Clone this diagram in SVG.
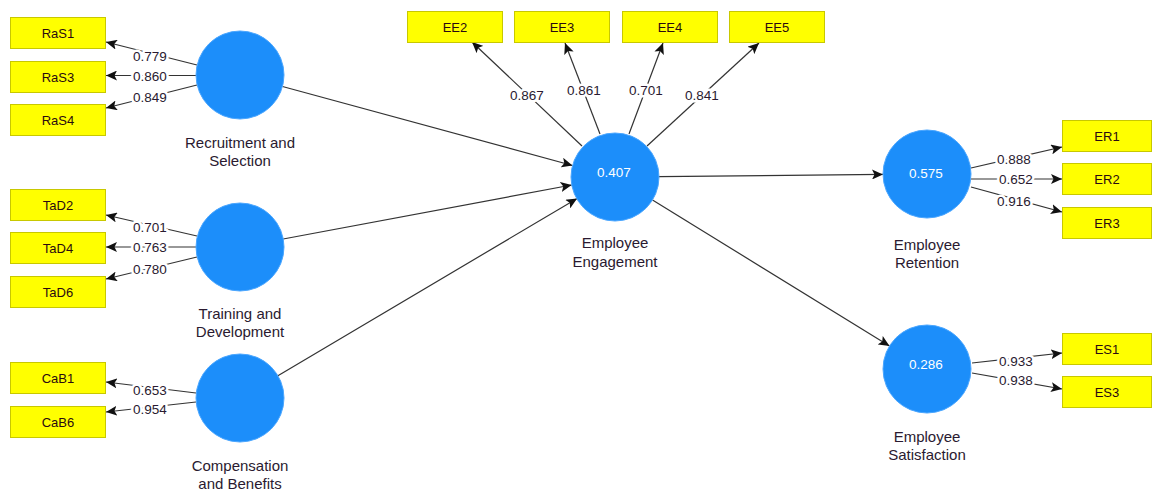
<svg xmlns="http://www.w3.org/2000/svg" width="1153" height="490" viewBox="0 0 1153 490">
<style>
.box{fill:#FFFF00;stroke:#C8C800;stroke-width:1}
.bt{font-family:"Liberation Sans",Arial,sans-serif;font-size:13px;fill:#2a0a10;text-anchor:middle}
.lv{fill:#1C8EFA;stroke:#4aa6ff;stroke-width:1}
.lvt{font-family:"Liberation Sans",Arial,sans-serif;font-size:13.5px;fill:#ffffff;text-anchor:middle}
.nm{font-family:"Liberation Sans",Arial,sans-serif;font-size:15px;fill:#2a1a30;text-anchor:middle}
.ln{stroke:#333;stroke-width:1.2;fill:none;marker-end:url(#ah)}
.ld{font-family:"Liberation Sans",Arial,sans-serif;font-size:13.5px;fill:#2a1a30;text-anchor:middle;stroke:#fff;stroke-width:5;paint-order:stroke;stroke-linejoin:round}
</style>
<defs>
<marker id="ah" markerUnits="userSpaceOnUse" markerWidth="12" markerHeight="10" refX="11" refY="5" orient="auto">
<path d="M0,0 L11,5 L0,10 L2.5,5 Z" fill="#111"/>
</marker>
</defs>
<rect width="1153" height="490" fill="#fff"/>

<g id="connectors">
<line class="ln" x1="282.5" y1="86.5" x2="572.5" y2="165.5"/>
<line class="ln" x1="283.2" y1="239" x2="571.7" y2="185"/>
<line class="ln" x1="277.9" y1="375.7" x2="577.1" y2="198.5"/>
<line class="ln" x1="659" y1="176.6" x2="883" y2="174.4"/>
<line class="ln" x1="652.5" y1="200" x2="889.5" y2="346"/>

<line class="ln" x1="197" y1="65" x2="106" y2="42"/>
<line class="ln" x1="196" y1="75.5" x2="106" y2="75.5"/>
<line class="ln" x1="197" y1="85" x2="106" y2="108"/>
<line class="ln" x1="197" y1="236" x2="106" y2="215"/>
<line class="ln" x1="196" y1="247" x2="106" y2="247"/>
<line class="ln" x1="197" y1="257" x2="106" y2="279"/>
<line class="ln" x1="196" y1="393" x2="106" y2="382"/>
<line class="ln" x1="196" y1="402" x2="106" y2="412"/>

<line class="ln" x1="582" y1="146" x2="472" y2="42"/>
<line class="ln" x1="600" y1="134" x2="565" y2="43"/>
<line class="ln" x1="629" y1="134" x2="663" y2="43"/>
<line class="ln" x1="647" y1="146" x2="759" y2="43"/>

<line class="ln" x1="971" y1="168" x2="1062" y2="147"/>
<line class="ln" x1="971" y1="179" x2="1062" y2="179"/>
<line class="ln" x1="971" y1="187" x2="1062" y2="212"/>
<line class="ln" x1="972" y1="363" x2="1062" y2="353"/>
<line class="ln" x1="972" y1="373" x2="1062" y2="389"/>

<text class="ld" x="150" y="60.5">0.779</text>
<text class="ld" x="150" y="80.5">0.860</text>
<text class="ld" x="150" y="101.5">0.849</text>
<text class="ld" x="150" y="231.5">0.701</text>
<text class="ld" x="150" y="252">0.763</text>
<text class="ld" x="150" y="274">0.780</text>
<text class="ld" x="150" y="395">0.653</text>
<text class="ld" x="150" y="414">0.954</text>
<text class="ld" x="527" y="100">0.867</text>
<text class="ld" x="584" y="95">0.861</text>
<text class="ld" x="646" y="95">0.701</text>
<text class="ld" x="702" y="100">0.841</text>
<text class="ld" x="1014" y="164">0.888</text>
<text class="ld" x="1016" y="184">0.652</text>
<text class="ld" x="1014" y="205.5">0.916</text>
<text class="ld" x="1016" y="365.5">0.933</text>
<text class="ld" x="1016" y="385">0.938</text>
</g>

<g id="RecruitmentSelection">
<circle class="lv" cx="240" cy="75" r="44"/>
<text class="nm" x="240" y="147.5">Recruitment and</text>
<text class="nm" x="240" y="166">Selection</text>
</g>
<g id="TrainingDevelopment">
<circle class="lv" cx="240" cy="247" r="44"/>
<text class="nm" x="240" y="318.5">Training and</text>
<text class="nm" x="240" y="337">Development</text>
</g>
<g id="CompensationBenefits">
<circle class="lv" cx="240" cy="398" r="44"/>
<text class="nm" x="240" y="470.5">Compensation</text>
<text class="nm" x="240" y="489">and Benefits</text>
</g>
<g id="EmployeeEngagement">
<circle class="lv" cx="615" cy="177" r="44"/>
<text class="lvt" x="614" y="177">0.407</text>
<text class="nm" x="615" y="248">Employee</text>
<text class="nm" x="615" y="267">Engagement</text>
</g>
<g id="EmployeeRetention">
<circle class="lv" cx="927" cy="174" r="44"/>
<text class="lvt" x="926" y="178">0.575</text>
<text class="nm" x="927" y="249.5">Employee</text>
<text class="nm" x="927" y="268">Retention</text>
</g>
<g id="EmployeeSatisfaction">
<circle class="lv" cx="927" cy="369" r="44"/>
<text class="lvt" x="926" y="369">0.286</text>
<text class="nm" x="927" y="441.5">Employee</text>
<text class="nm" x="927" y="460">Satisfaction</text>
</g>

<g id="RaS1"><rect class="box" x="10.5" y="17.5" width="95" height="31"/><text class="bt" x="58" y="37.5">RaS1</text></g>
<g id="RaS3"><rect class="box" x="10.5" y="61.5" width="95" height="31"/><text class="bt" x="58" y="81.5">RaS3</text></g>
<g id="RaS4"><rect class="box" x="10.5" y="104.5" width="95" height="31"/><text class="bt" x="58" y="124.5">RaS4</text></g>
<g id="TaD2"><rect class="box" x="10.5" y="189.5" width="95" height="31"/><text class="bt" x="58" y="209.5">TaD2</text></g>
<g id="TaD4"><rect class="box" x="10.5" y="232.5" width="95" height="31"/><text class="bt" x="58" y="252.5">TaD4</text></g>
<g id="TaD6"><rect class="box" x="10.5" y="276.5" width="95" height="31"/><text class="bt" x="58" y="296.5">TaD6</text></g>
<g id="CaB1"><rect class="box" x="10.5" y="362.5" width="95" height="31"/><text class="bt" x="58" y="382.5">CaB1</text></g>
<g id="CaB6"><rect class="box" x="10.5" y="406.5" width="95" height="31"/><text class="bt" x="58" y="426.5">CaB6</text></g>

<g id="EE2"><rect class="box" x="407.5" y="11.5" width="95" height="31"/><text class="bt" x="455" y="31.5">EE2</text></g>
<g id="EE3"><rect class="box" x="514.5" y="11.5" width="95" height="31"/><text class="bt" x="562" y="31.5">EE3</text></g>
<g id="EE4"><rect class="box" x="622.5" y="11.5" width="95" height="31"/><text class="bt" x="670" y="31.5">EE4</text></g>
<g id="EE5"><rect class="box" x="729.5" y="11.5" width="95" height="31"/><text class="bt" x="777" y="31.5">EE5</text></g>

<g id="ER1"><rect class="box" x="1062.5" y="120.5" width="89" height="31"/><text class="bt" x="1107" y="140.5">ER1</text></g>
<g id="ER2"><rect class="box" x="1062.5" y="163.5" width="89" height="31"/><text class="bt" x="1107" y="183.5">ER2</text></g>
<g id="ER3"><rect class="box" x="1062.5" y="207.5" width="89" height="31"/><text class="bt" x="1107" y="227.5">ER3</text></g>
<g id="ES1"><rect class="box" x="1062.5" y="333.5" width="89" height="31"/><text class="bt" x="1107" y="353.5">ES1</text></g>
<g id="ES3"><rect class="box" x="1062.5" y="376.5" width="89" height="31"/><text class="bt" x="1107" y="396.5">ES3</text></g>
</svg>
